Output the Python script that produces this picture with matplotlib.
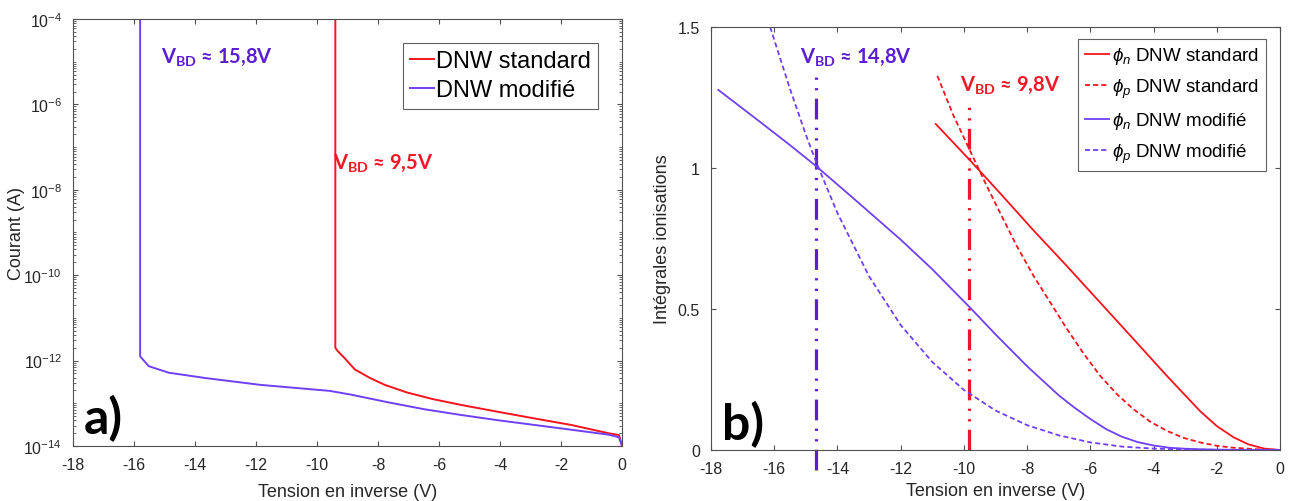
import numpy as np
import matplotlib
matplotlib.use('Agg')
import matplotlib.pyplot as plt
from matplotlib.ticker import LogLocator, NullFormatter, FixedLocator

plt.rcParams['font.family'] = ['Liberation Sans', 'DejaVu Sans']
plt.rcParams['axes.unicode_minus'] = False
plt.rcParams['mathtext.fontset'] = 'custom'
plt.rcParams['mathtext.rm'] = 'Liberation Sans'
plt.rcParams['mathtext.it'] = 'Liberation Sans:italic'
plt.rcParams['mathtext.bf'] = 'Lato:bold'

# ---- data, panel a) : I(V) curves
v_std = [-9.40, -9.40, -9.32, -9.10, -8.76, -8.26, -7.78, -7.06, -6.22, -5.26, -4.06, -2.86, -1.66, -0.46, -0.10, 0.0]
i_std = [1e-4, 2.0e-12, 1.66e-12, 1.15e-12, 6.2e-13, 3.9e-13, 2.7e-13, 1.8e-13, 1.26e-13, 9.1e-14, 6.3e-14, 4.4e-14,
         3.1e-14, 2.0e-14, 1.8e-14, 1.0e-14]
v_mod = [-15.80, -15.80, -15.52, -14.86, -13.66, -11.86, -9.58, -8.86, -7.66, -6.46, -5.26, -4.06, -2.86, -1.66,
         -0.46, -0.10, 0.0]
i_mod = [1e-4, 1.26e-12, 7.4e-13, 5.2e-13, 3.9e-13, 2.7e-13, 1.95e-13, 1.58e-13, 1.05e-13, 7.2e-14, 5.3e-14, 4.0e-14,
         3.1e-14, 2.4e-14, 1.85e-14, 1.6e-14, 1.0e-14]

# ---- data, panel b) : ionisation integrals
v_n_std = [-10.89, -9.83, -8.85, -7.80, -6.74, -5.69, -4.64, -3.58, -3.05, -2.53, -2.0, -1.47, -1.0, -0.5, 0.0]
phi_n_std = [1.156, 1.030, 0.91, 0.779, 0.652, 0.523, 0.394, 0.263, 0.2, 0.138, 0.085, 0.045, 0.02, 0.005, 0.0]
v_p_std = [-10.84, -10.33, -9.83, -9.28, -8.85, -8.33, -7.80, -7.25, -6.74, -6.2, -5.69, -5.15, -4.64, -4.1, -3.58,
           -3.05, -2.53, -2.0, -1.47, -0.8, 0.0]
phi_p_std = [1.327, 1.186, 1.067, 0.937, 0.84, 0.724, 0.618, 0.52, 0.429, 0.34, 0.263, 0.197, 0.145, 0.1, 0.068,
             0.043, 0.027, 0.015, 0.008, 0.003, 0.0]
v_n_mod = [-17.77, -16.5, -15.5, -14.69, -13.5, -12.5, -12.0, -11.0, -10.0, -9.83, -9.0, -8.0, -7.0, -6.5, -6.0,
           -5.5, -5.0, -4.5, -4.0, -3.5, -3.0, -2.5, -2.0, -1.0, 0.0]
phi_n_mod = [1.277, 1.168, 1.081, 1.008, 0.893, 0.795, 0.746, 0.641, 0.527, 0.508, 0.41, 0.297, 0.194, 0.15, 0.11,
             0.074, 0.047, 0.028, 0.016, 0.008, 0.0045, 0.0025, 0.0013, 0.0003, 0.0]
v_p_mod = [-16.13, -15.5, -15.0, -14.69, -14.0, -13.0, -12.0, -11.0, -10.0, -9.0, -8.0, -7.0, -6.0, -5.0, -4.0,
           -3.0, -2.0, -1.0, 0.0]
phi_p_mod = [1.5, 1.28, 1.118, 1.026, 0.84, 0.616, 0.443, 0.312, 0.213, 0.14, 0.088, 0.052, 0.027, 0.012, 0.005,
             0.0018, 0.0005, 0.0001, 0.0]

vbd_mod = -14.69
vbd_std = -9.83

RED = '#f5141e'
BLUE = '#7040f5'
RED_TXT = '#f01828'
BLUE_TXT = '#5a1ed2'
AX_COL = '#505050'
TXT_COL = '#262626'

fig = plt.figure(figsize=(12.97, 5.02), dpi=100)
ax1 = fig.add_axes([0.0563, 0.1096, 0.4233, 0.8506])
ax2 = fig.add_axes([0.5482, 0.1016, 0.4387, 0.8426])

for ax in (ax1, ax2):
    for s in ax.spines.values():
        s.set_color(AX_COL)
        s.set_linewidth(0.8)
    ax.tick_params(which='both', direction='in', top=True, right=True, colors=AX_COL,
                   labelcolor=TXT_COL, labelsize=11.5, pad=8)
    ax.set_xlim(-18, 0)
    ax.set_xticks(np.arange(-18, 1, 2))
ax1.set_xlabel('Tension en inverse (V)', fontsize=13, color=TXT_COL, labelpad=8)
ax2.set_xlabel('Tension en inverse (V)', fontsize=13, color=TXT_COL, labelpad=4)

# ---- panel a)
ax1.semilogy(v_std, i_std, color=RED, lw=1.4, label='DNW standard')
ax1.semilogy(v_mod, i_mod, color=BLUE, lw=1.4, label='DNW modifié')
ax1.set_ylim(1e-14, 1e-4)
ax1.yaxis.set_major_locator(FixedLocator([1e-14, 1e-12, 1e-10, 1e-8, 1e-6, 1e-4]))
ax1.yaxis.set_minor_locator(LogLocator(base=10, subs=np.arange(1, 10), numticks=30))
ax1.yaxis.set_minor_formatter(NullFormatter())
ax1.tick_params(which='minor', length=2)
ax1.set_ylabel('Courant (A)', fontsize=13, color=TXT_COL)
ax1.yaxis.set_label_coords(-0.088, 0.5)
leg1 = ax1.legend(loc='upper right', bbox_to_anchor=(0.956, 0.943), borderaxespad=0, fontsize=17,
                  handlelength=1.0, handletextpad=0.1, labelspacing=0.3, borderpad=0.3,
                  fancybox=False, framealpha=1)
leg1.get_frame().set_edgecolor('#606060')
leg1.get_frame().set_linewidth(0.8)

ax1.text(-15.11, 10 ** -4.87, r'V$_{\mathbf{BD}}$ ≈ 15,8V', color=BLUE_TXT, fontsize=14.5, fontweight='bold',
         family=['Lato', 'DejaVu Sans'], va='center', ha='left')
ax1.text(-9.48, 10 ** -7.35, r'V$_{\mathbf{BD}}$ ≈ 9,5V', color=RED_TXT, fontsize=14.5, fontweight='bold',
         family=['Lato', 'DejaVu Sans'], va='center', ha='left')
ax1.text(0.02, 0.012, 'a)', transform=ax1.transAxes, fontsize=36, fontweight='bold',
         family=['Lato', 'DejaVu Sans'], va='bottom', ha='left', color='black')

# ---- panel b)
dd = (0, (6.5, 2.6, 0.7, 2.6, 0.7, 2.6))
ax2.plot([vbd_mod, vbd_mod], [-0.07, 1.34], color='#5a1ed2', lw=2.3, ls=dd, clip_on=False)
ax2.plot([vbd_std, vbd_std], [0, 1.233], color='#f0142a', lw=2.3, ls=dd)
dash = (0, (2.8, 1.7))
ax2.plot(v_n_std, phi_n_std, color=RED, lw=1.3, label=r'$\phi_n$ DNW standard')
ax2.plot(v_p_std, phi_p_std, color=RED, lw=1.3, ls=dash, label=r'$\phi_p$ DNW standard')
ax2.plot(v_n_mod, phi_n_mod, color=BLUE, lw=1.3, label=r'$\phi_n$ DNW modifié')
ax2.plot(v_p_mod, phi_p_mod, color=BLUE, lw=1.3, ls=dash, label=r'$\phi_p$ DNW modifié')
ax2.set_ylim(0, 1.5)
ax2.set_yticks([0, 0.5, 1, 1.5])
ax2.set_yticklabels(['0', '0.5', '1', '1.5'])
ax2.set_ylabel('Intégrales ionisations', fontsize=13, color=TXT_COL)
ax2.yaxis.set_label_coords(-0.07, 0.5)

handles, labels = ax2.get_legend_handles_labels()
leg2 = ax2.legend(handles[-4:], labels[-4:], loc='upper right', bbox_to_anchor=(0.975, 0.972),
                  borderaxespad=0, fontsize=13.5, handlelength=1.3, handletextpad=0.15,
                  labelspacing=0.55, borderpad=0.35, fancybox=False, framealpha=1)
leg2.get_frame().set_edgecolor('#606060')
leg2.get_frame().set_linewidth(0.8)

ax2.text(-15.18, 1.398, r'V$_{\mathbf{BD}}$ ≈ 14,8V', color=BLUE_TXT, fontsize=14.5, fontweight='bold',
         family=['Lato', 'DejaVu Sans'], va='center', ha='left')
ax2.text(-10.12, 1.298, r'V$_{\mathbf{BD}}$ ≈ 9,8V', color=RED_TXT, fontsize=14.5, fontweight='bold',
         family=['Lato', 'DejaVu Sans'], va='center', ha='left')
ax2.text(0.019, 0.008, 'b)', transform=ax2.transAxes, fontsize=36, fontweight='bold',
         family=['Lato', 'DejaVu Sans'], va='bottom', ha='left', color='black')

fig.savefig('out.png', dpi=100, facecolor='white')
